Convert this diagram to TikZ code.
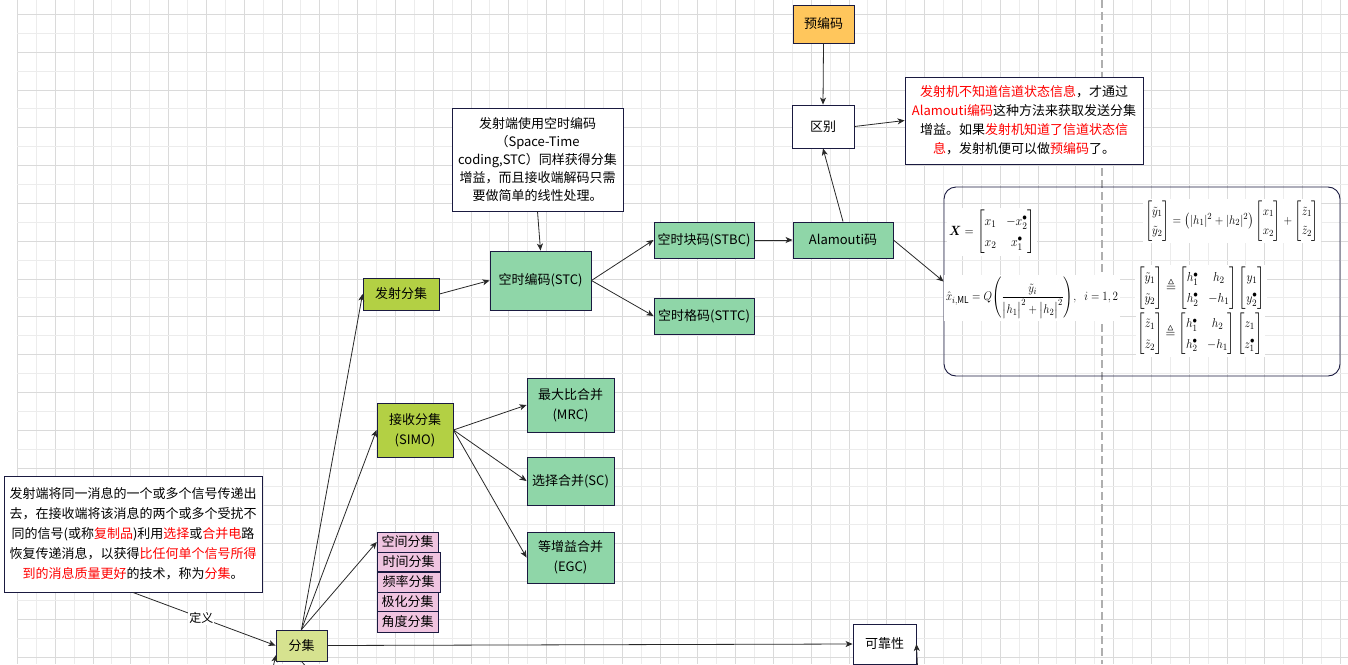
\documentclass[tikz,border=0pt]{standalone}
\usepackage{amsmath}
\usepackage{amssymb}
\usepackage{fontspec}
\setmainfont{Noto Sans CJK SC}
\usepackage{graphicx}
\usetikzlibrary{arrows.meta}
\definecolor{navy}{RGB}{26,26,64}
\definecolor{gfill}{RGB}{143,214,168}
\definecolor{ygfill}{RGB}{179,208,68}
\definecolor{lyfill}{RGB}{214,226,143}
\definecolor{pkfill}{RGB}{240,196,224}
\definecolor{orfill}{RGB}{255,198,92}
\definecolor{gridA}{RGB}{218,218,218}
\definecolor{gridB}{RGB}{236,236,236}
\definecolor{dashc}{RGB}{175,175,175}
\definecolor{edgec}{RGB}{40,40,40}
\tikzset{
  box/.style={draw=navy, line width=0.9pt, inner sep=2pt, align=center},
  arr/.style={-{Stealth[length=7pt,width=6pt,inset=2pt]}, draw=edgec, line width=0.8pt},
  plain/.style={draw=edgec, line width=0.8pt},
  eq/.style={fill=white, inner sep=2pt},
  lbl/.style={fill=white, inner sep=1pt, font=\fontsize{12pt}{14pt}\selectfont}
}
\begin{document}
\begin{tikzpicture}[x=1pt, y=-1pt, font=\fontsize{13pt}{19pt}\selectfont]
\useasboundingbox (0,0) rectangle (1348,664);
\clip (0,0) rectangle (1348,664);
\fill[white] (0,0) rectangle (1348,664);
% grid
\foreach \i in {0,...,70} {
  \pgfmathtruncatemacro{\r}{mod(\i,2)}
  \ifnum\r=0 \draw[gridA, line width=0.8pt] (17.3+\i*18.9,0) -- (17.3+\i*18.9,664);
  \else \draw[gridB, line width=0.8pt] (17.3+\i*18.9,0) -- (17.3+\i*18.9,664); \fi
}
\foreach \j in {0,...,34} {
  \pgfmathtruncatemacro{\r}{mod(\j,2)}
  \ifnum\r=0 \draw[gridA, line width=0.8pt] (17.3,14.3+\j*18.9) -- (1348,14.3+\j*18.9);
  \else \draw[gridB, line width=0.8pt] (17.3,14.3+\j*18.9) -- (1348,14.3+\j*18.9); \fi
}
% dashed guide
\coordinate (dtop) at (1102,0);
\coordinate (dbot) at (1102,664);
\draw[dashc, line width=1.1pt, dash pattern=on 8pt off 4pt] (dtop) -- (dbot);

% nodes
\node[box, fill=orfill, minimum width=61pt, minimum height=38pt] (yubianma) at (823.5,24) {预编码};
\node[box, fill=white, minimum width=62pt, minimum height=43pt] (qubie) at (823,126.5) {区别};
\node[box, fill=white, minimum width=238pt, minimum height=87pt, font=\fontsize{13pt}{19pt}\selectfont] (redbox) at (1024,120.5) {%
\textcolor{red}{发射机不知道信道状态信息}，才通过\\
\textcolor{red}{Alamouti编码}这种方法来获取发送分集\\
增益。如果\textcolor{red}{发射机知道了信道状态信}\\
\textcolor{red}{息}，发射机便可以做\textcolor{red}{预编码}了。};
\node[box, fill=gfill, minimum width=100pt, minimum height=36pt] (alamouti) at (843,240) {Alamouti码};
\node[draw=navy, line width=0.9pt, rounded corners=12pt, minimum width=396pt, minimum height=189pt] (mathbox) at (1142,281.5) {};

\node[box, fill=white, minimum width=171pt, minimum height=103pt, font=\fontsize{13pt}{18pt}\selectfont] (stctext) at (537.5,159.5) {%
发射端使用空时编码\\
（Space-Time\\
coding,STC）同样获得分集\\
增益，而且接收端解码只需\\
要做简单的线性处理。};
\node[box, fill=gfill, minimum width=101pt, minimum height=59pt] (stc) at (540.5,280.5) {空时编码(STC)};
\node[box, fill=gfill, minimum width=100pt, minimum height=36pt] (stbc) at (704,240) {空时块码(STBC)};
\node[box, fill=gfill, minimum width=100pt, minimum height=36pt] (sttc) at (704,316) {空时格码(STTC)};
\node[box, fill=ygfill, minimum width=76pt, minimum height=32pt] (fashe) at (401,294) {发射分集};
\node[box, fill=ygfill, minimum width=76pt, minimum height=54pt, font=\fontsize{13pt}{20pt}\selectfont] (jieshou) at (415,430) {接收分集\\(SIMO)};
\node[box, fill=gfill, minimum width=87pt, minimum height=54pt, font=\fontsize{13pt}{20pt}\selectfont] (mrc) at (570.5,405) {最大比合并\\(MRC)};
\node[box, fill=gfill, minimum width=87pt, minimum height=48pt] (sc) at (570.5,481) {选择合并(SC)};
\node[box, fill=gfill, minimum width=87pt, minimum height=51pt, font=\fontsize{13pt}{20pt}\selectfont] (egc) at (570.5,557.5) {等增益合并\\(EGC)};
\node[box, fill=pkfill, minimum width=61pt, minimum height=20pt, inner sep=0pt] (kongjian) at (407.7,542) {空间分集};
\node[box, fill=pkfill, minimum width=63pt, minimum height=19pt, inner sep=0pt] (shijian) at (408.5,561.8) {时间分集};
\node[box, fill=pkfill, minimum width=63pt, minimum height=20pt, inner sep=0pt] (pinlv) at (408.5,582) {频率分集};
\node[box, fill=pkfill, minimum width=61pt, minimum height=19pt, inner sep=0pt] (jihua) at (407.7,601.5) {极化分集};
\node[box, fill=pkfill, minimum width=61pt, minimum height=20.5pt, inner sep=0pt] (jiaodu) at (407.7,622) {角度分集};
\node[box, fill=lyfill, minimum width=51pt, minimum height=31pt] (fenji) at (301.5,645.5) {分集};
\node[box, fill=white, minimum width=63pt, minimum height=40pt] (kekao) at (884.5,644) {可靠性};
\node[box, fill=white, minimum width=258pt, minimum height=116pt, font=\fontsize{13pt}{20pt}\selectfont] (deftext) at (133,534) {%
发射端将同一消息的一个或多个信号传递出\\
去，在接收端将该消息的两个或多个受扰不\\
同的信号(或称\textcolor{red}{复制品})利用\textcolor{red}{选择}或\textcolor{red}{合并电}路\\
恢复传递消息，以获得\textcolor{red}{比任何单个信号所得}\\
\textcolor{red}{到的消息质量更好}的技术，称为\textcolor{red}{分集}。};

% equations
\node[eq] (eq1) at (992,232) {\scalebox{1}[1.12]{\resizebox{86pt}{!}{$\boldsymbol{X}=\begin{bmatrix}x_1 & -x_2^{\bullet}\\ x_2 & x_1^{\bullet}\end{bmatrix}$}}};
\node[eq] (eq2) at (1232,221) {\scalebox{1}[1.1]{\resizebox{174pt}{!}{$\begin{bmatrix}\tilde y_1\\ \tilde y_2\end{bmatrix}=\left(|h_1|^2+|h_2|^2\right)\begin{bmatrix}x_1\\ x_2\end{bmatrix}+\begin{bmatrix}\tilde z_1\\ \tilde z_2\end{bmatrix}$}}};
\node[eq] (eq3) at (1032,298) {\scalebox{1}[1.15]{\resizebox{172pt}{!}{$\hat{x}_{i,\mathrm{ML}}=Q\Biggl(\dfrac{\tilde y_i}{\bigl|h_1\bigr|^2+\bigl|h_2\bigr|^2}\Biggr),\;\; i=1,2$}}};
\node[eq] (eq4) at (1201,288) {\scalebox{1}[1.1]{\resizebox{128pt}{!}{$\begin{bmatrix}\tilde y_1\\ \tilde y_2\end{bmatrix}\triangleq\begin{bmatrix}h_1^{\bullet} & h_2\\ h_2^{\bullet} & -h_1\end{bmatrix}\begin{bmatrix}y_1\\ y_2^{\bullet}\end{bmatrix}$}}};
\node[eq] (eq5) at (1200,334) {\scalebox{1}[1.1]{\resizebox{125pt}{!}{$\begin{bmatrix}\tilde z_1\\ \tilde z_2\end{bmatrix}\triangleq\begin{bmatrix}h_1^{\bullet} & h_2\\ h_2^{\bullet} & -h_1\end{bmatrix}\begin{bmatrix}z_1\\ z_1^{\bullet}\end{bmatrix}$}}};

% connectors
\draw[arr] (yubianma.south) -- (qubie.north);
\draw[arr] (qubie.east) -- (redbox.west);
\draw[arr] (alamouti.north) -- (qubie.south);
\draw[arr] (alamouti.east) -- (mathbox.west);
\draw[arr] (stbc.east) -- (alamouti.west);
\draw[arr] (stctext.south) -- (stc.north);
\draw[arr] (stc.east) -- (stbc.west);
\draw[arr] (stc.east) -- (sttc.west);
\draw[arr] (fashe.east) -- (stc.west);
\draw[arr] (jieshou.east) -- (mrc.west);
\draw[arr] (jieshou.east) -- (sc.west);
\draw[arr] (jieshou.east) -- (egc.west);
\draw[arr] (fenji.north) -- (fashe.west);
\draw[arr] (fenji.north) -- (jieshou.west);
\draw[arr] (fenji.north) -- (kongjian.west);
\draw[arr] (deftext.south) -- node[lbl, pos=0.48] (dingyi) {定义} (fenji.west);
\draw[arr] (fenji.east) -- (kekao.west);
\coordinate (kin) at (919,700);
\draw[arr] (kin) -- (kekao.east);
\coordinate (fin) at (264,705);
\coordinate (fintip) at (276,655);
\draw[arr] (fin) -- (fintip);
\coordinate (fout) at (318,680);
\draw[plain] (fenji.south) -- (fout);
\end{tikzpicture}
\end{document}
